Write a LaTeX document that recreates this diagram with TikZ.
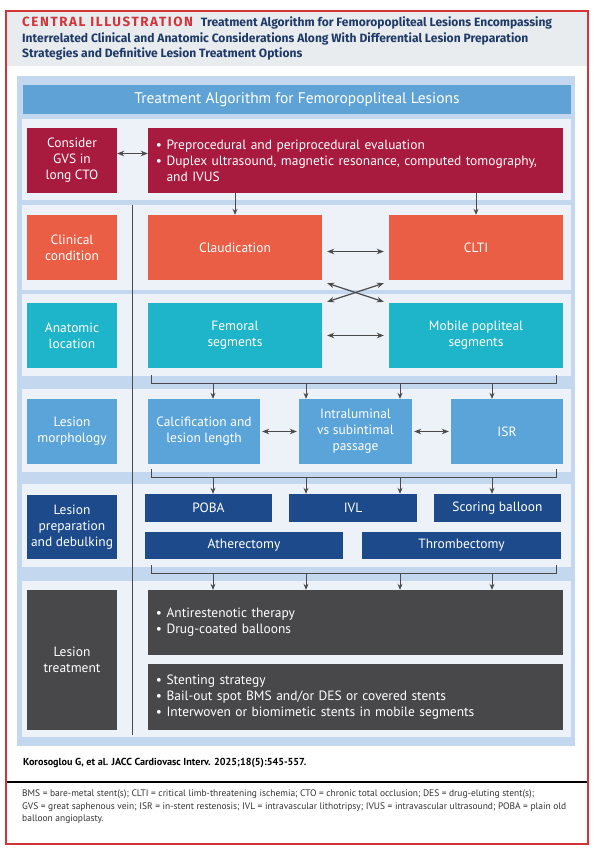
\documentclass[tikz,border=0pt]{standalone}
\usepackage{fontspec}
\setmainfont{PT Sans}
\newfontfamily\headfamily{Fira Sans}
\usetikzlibrary{arrows.meta}

\definecolor{jaccred}{HTML}{D2343A}
\definecolor{navytext}{HTML}{1F3A68}
\definecolor{headgray}{HTML}{E8ECEE}
\definecolor{panelblue}{HTML}{C3D8EE}
\definecolor{rowbg}{HTML}{EDF2F9}
\definecolor{titleblue}{HTML}{5EA2D6}
\definecolor{wine}{HTML}{A81A3E}
\definecolor{coral}{HTML}{E95E45}
\definecolor{tealbox}{HTML}{1EB4C9}
\definecolor{midblue}{HTML}{5BA4DA}
\definecolor{navybox}{HTML}{1C4A8A}
\definecolor{slatebox}{HTML}{48484B}
\definecolor{arrowgray}{HTML}{4A4A4A}

\newcommand\cellfont{\fontsize{13.5}{16}\selectfont}
\newcommand\headfont{\headfamily\fontsize{12.1}{15.5}\selectfont\bfseries}
\newcommand\titlefont{\fontsize{15.5}{18}\selectfont}
\newcommand\notefont{\fontsize{9.5}{12.5}\selectfont}
\newcommand\citefont{\fontsize{10.2}{12}\selectfont\bfseries}

\tikzset{
  cell/.style={inner sep=0pt, text=white, align=center, font=\cellfont},
  listcell/.style={cell, inner xsep=8bp, text width=399bp, align=left},
  down/.style={arrowgray, line width=1bp, -{Stealth[length=6bp,width=5bp]}},
  both/.style={arrowgray, line width=1.2bp, {Stealth[length=7bp,width=5.5bp]}-{Stealth[length=7bp,width=5.5bp]}},
  link/.style={arrowgray, line width=1bp}
}

\begin{document}
\begin{tikzpicture}[x=1bp,y=-1bp]
\useasboundingbox (0,0) rectangle (594,850);
\fill[white] (0,0) rectangle (594,850);

% heading
\fill[headgray] (7,12) rectangle (587,66);
\draw[jaccred, line width=2bp] (6,11) rectangle (588,844);
\node[anchor=north west, inner sep=0pt, align=left, font=\headfont, text=navytext] (heading) at (22,17) {%
  {\color{jaccred}\fontsize{13.4}{15.5}\selectfont\addfontfeature{LetterSpace=12}CENTRAL ILLUSTRATION}\hspace{5bp} Treatment Algorithm for Femoropopliteal Lesions Encompassing\\
  Interrelated Clinical and Anatomic Considerations Along With Differential Lesion Preparation\\
  Strategies and Definitive Lesion Treatment Options};

% panel and rows
\fill[panelblue] (17,76) rectangle (575,746);
\node[fill=titleblue, minimum width=548bp, minimum height=29bp, inner sep=0pt, text=white, font=\titlefont] (title) at (297,99.5) {Treatment Algorithm for Femoropopliteal Lesions};
\foreach \ya/\yb in {119/200, 205/290, 294/376, 389/472, 484/567, 581/737}
  \fill[rowbg] (22,\ya) rectangle (571,\yb);
\draw[link, line width=0.8bp] (132,205) -- (132,735);

% left column
\node[cell, fill=wine, minimum width=90bp, minimum height=65bp] (gvs) at (72,160.5) {Consider\\GVS in\\long CTO};
\node[cell, fill=coral, minimum width=90bp, minimum height=65bp] (clin) at (72,247.5) {Clinical\\condition};
\node[cell, fill=tealbox, minimum width=90bp, minimum height=65bp] (anat) at (72,335.5) {Anatomic\\location};
\node[cell, fill=midblue, minimum width=90bp, minimum height=65bp] (morph) at (72,431.5) {Lesion\\morphology};
\node[cell, fill=navybox, minimum width=90bp, minimum height=64bp] (prep) at (72,527) {Lesion\\preparation\\and debulking};
\node[cell, fill=slatebox, minimum width=90bp, minimum height=140bp] (treat) at (72,660) {Lesion\\treatment};

% right column
\node[listcell, fill=wine, minimum width=415bp, minimum height=65bp] (eval) at (355.5,160.5) {%
  \textbullet\ Preprocedural and periprocedural evaluation\\
  \textbullet\ Duplex ultrasound, magnetic resonance, computed tomography,\\
  \hphantom{\textbullet\ }and IVUS};
\node[cell, fill=coral, minimum width=174bp, minimum height=65bp] (claud) at (235,247.5) {Claudication};
\node[cell, fill=coral, minimum width=174bp, minimum height=65bp] (clti) at (476,247.5) {CLTI};
\node[cell, fill=tealbox, minimum width=174bp, minimum height=65bp] (fem) at (235,335.5) {Femoral\\segments};
\node[cell, fill=tealbox, minimum width=174bp, minimum height=65bp] (mobile) at (476,335.5) {Mobile popliteal\\segments};
\node[cell, fill=midblue, minimum width=112bp, minimum height=65bp] (calc) at (204,431.5) {Calcification and\\lesion length};
\node[cell, fill=midblue, minimum width=113bp, minimum height=65bp] (intra) at (355.5,431.5) {Intraluminal\\vs subintimal\\passage};
\node[cell, fill=midblue, minimum width=112bp, minimum height=65bp] (isr) at (507,431.5) {ISR};
\node[cell, fill=navybox, minimum width=127bp, minimum height=28bp] (poba) at (208.5,508) {POBA};
\node[cell, fill=navybox, minimum width=128bp, minimum height=28bp] (ivl) at (353,508) {IVL};
\node[cell, fill=navybox, minimum width=127bp, minimum height=28bp] (scoring) at (497.5,508) {Scoring balloon};
\node[cell, fill=navybox, minimum width=198bp, minimum height=27bp] (ather) at (244,545.5) {Atherectomy};
\node[cell, fill=navybox, minimum width=199bp, minimum height=27bp] (thromb) at (461.5,545.5) {Thrombectomy};
\node[listcell, fill=slatebox, minimum width=415bp, minimum height=65bp] (anti) at (355.5,622.5) {%
  \textbullet\ Antirestenotic therapy\\
  \textbullet\ Drug-coated balloons};
\node[listcell, fill=slatebox, minimum width=415bp, minimum height=66bp] (stent) at (355.5,697) {%
  \textbullet\ Stenting strategy\\
  \textbullet\ Bail-out spot BMS and/or DES or covered stents\\
  \textbullet\ Interwoven or biomimetic stents in mobile segments};

% connectors
\draw[both] ([yshift=7bp]gvs.east) -- ([yshift=7bp]eval.west);
\draw[down] (claud.north |- eval.south) -- (claud.north);
\draw[down] (clti.north |- eval.south) -- (clti.north);
\draw[both] ([xshift=5bp,yshift=-4bp]claud.east) -- ([xshift=-5bp,yshift=-4bp]clti.west);
\draw[both] ([xshift=5bp]fem.east) -- ([xshift=-5bp]mobile.west);
\draw[both] ([xshift=5bp,yshift=-3bp]claud.south east) -- ([xshift=-5bp,yshift=1bp]mobile.north west);
\draw[both] ([xshift=5bp,yshift=1bp]fem.north east) -- ([xshift=-5bp,yshift=-3bp]clti.south west);
\draw[both] ([xshift=2bp]calc.east) -- ([xshift=-2bp]intra.west);
\draw[both] ([xshift=2bp]intra.east) -- ([xshift=-2bp]isr.west);

% brackets
\foreach \y/\n in {383/A, 477/B, 573/C} {
  \draw[link] (151,\y-8) -- (151,\y) -- (556,\y) -- (556,\y-8);
  \foreach \x [count=\i] in {213,306,400,492}
    \coordinate (br\n\i) at (\x,\y);
}
\draw[down] (brA1) -- (brA1 |- calc.north);
\draw[down] (brA2) -- (brA2 |- intra.north);
\draw[down] (brA3) -- (brA3 |- intra.north);
\draw[down] (brA4) -- (brA4 |- isr.north);
\draw[down] (brB1) -- (brB1 |- poba.north);
\draw[down] (brB2) -- (brB2 |- ivl.north);
\draw[down] (brB3) -- (brB3 |- ivl.north);
\draw[down] (brB4) -- (brB4 |- scoring.north);
\foreach \i in {1,...,4}
  \draw[down] (brC\i) -- (brC\i |- anti.north);

% citation and notes
\node[anchor=west, inner sep=0pt, font=\citefont] (cite) at (23,763) {Korosoglou G, et al. JACC Cardiovasc Interv. 2025;18(5):545-557.};
\draw[line width=1.5bp] (7,782) -- (587,782);
\node[anchor=north west, inner sep=0pt, align=left, font=\notefont, text=black!80] (notes) at (22,790) {%
  BMS = bare-metal stent(s); CLTI = critical limb-threatening ischemia; CTO = chronic total occlusion; DES = drug-eluting stent(s);\\
  GVS = great saphenous vein; ISR = in-stent restenosis; IVL = intravascular lithotripsy; IVUS = intravascular ultrasound; POBA = plain old\\
  balloon angioplasty.};
\end{tikzpicture}
\end{document}
